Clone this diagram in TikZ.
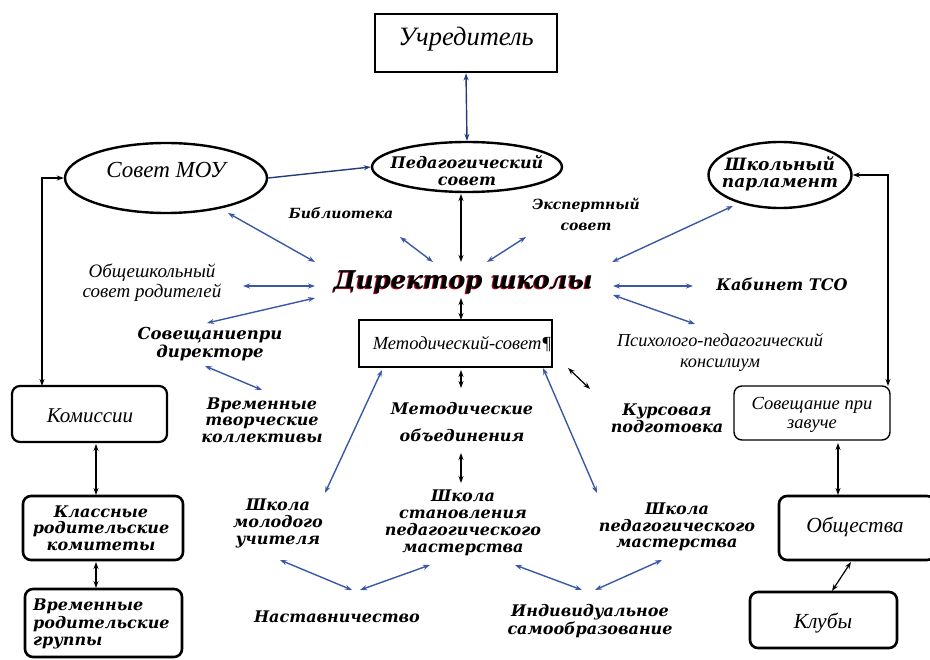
\documentclass[tikz,border=0pt]{standalone}
\usepackage{fontspec}
\setmainfont{Liberation Serif}
\newfontfamily\dvs{DejaVu Serif}
\usetikzlibrary{arrows.meta,shapes.geometric}
\definecolor{lnblue}{RGB}{58,88,165}
\definecolor{dkblue}{RGB}{35,60,120}
\definecolor{dred}{RGB}{170,10,30}
\newcommand\BI[2]{\dvs\fontsize{#1}{#2}\selectfont\bfseries\itshape}
\newcommand\RI[2]{\fontsize{#1}{#2}\selectfont\itshape}
\begin{document}
\begin{tikzpicture}[x=1pt,y=-1pt,
  tip/.tip={Stealth[length=7pt,width=5pt]},
  ba/.style={tip-tip, draw=lnblue, line width=1.4pt},
  bd/.style={tip-tip, draw=dkblue, line width=1.4pt},
  bs/.style={-tip, draw=dkblue, line width=1.4pt},
  bk/.style={tip-tip, draw=black, line width=1.2pt},
  lbl/.style={align=center, inner sep=0pt},
  thick box/.style={draw, line width=2.6pt, rounded corners=8pt, inner sep=0pt},
  thin box/.style={draw, line width=1.4pt, rounded corners=8pt, inner sep=0pt},
  oval/.style={ellipse, draw, line width=2.4pt, inner sep=0pt}]
\path[use as bounding box, fill=white] (0,0) rectangle (930,660);

% ---- boxes and ovals
\node[draw, line width=2.8pt, minimum width=182pt, minimum height=58pt, inner sep=0pt] (ucr) at (466,43) {};
\node[lbl, font=\RI{26.5}{28}] (ucrt) at (466,39) {Учредитель};
\node[oval, minimum width=190pt, minimum height=50pt] (ped) at (467,167) {};
\node[lbl, font=\BI{16}{17}] (pedt) at (467,171) {Педагогический\\совет};
\node[oval, minimum width=202pt, minimum height=70pt] (moy) at (166,178) {};
\node[lbl, font=\RI{23}{24}] (moyt) at (166,170) {Совет МОУ};
\node[oval, minimum width=143pt, minimum height=66pt] (parl) at (780,175) {};
\node[lbl, font=\BI{17}{17}] (parlt) at (780,174) {Школьный\\парламент};

\node[lbl, font=\BI{24.5}{28}, text=dred] at (462.3,283.6) {Директор школы};
\node[lbl, font=\BI{24.5}{28}] (dir) at (463.5,282) {Директор школы};

\node[draw, line width=1.3pt, minimum width=193pt, minimum height=47pt, inner sep=0pt] (met) at (455.5,343.5) {};
\node[lbl, font=\RI{18.5}{19}] (mett) at (462,344) {Методический-совет¶};

\node[thin box, line width=2.2pt, minimum width=155pt, minimum height=56pt] (kom) at (89.5,414) {};
\node[lbl, font=\RI{21}{21}] (komt) at (90,416) {Комиссии};
\node[thick box, minimum width=160pt, minimum height=64pt] (kls) at (103,528) {};
\node[lbl, font=\BI{16}{16.5}] (klst) at (101,528) {Классные\\родительские\\комитеты};
\node[thick box, minimum width=157pt, minimum height=68pt] (vrg) at (103.5,623) {};
\node[lbl, align=left, anchor=west, font=\BI{16}{17.5}] (vrgt) at (33,624) {Временные\\родительские\\группы};

\node[thin box, minimum width=156pt, minimum height=54pt] (zav) at (812,413) {};
\node[lbl, font=\RI{18.5}{19}] (zavt) at (812,415) {Совещание при\\завуче};
\node[thick box, minimum width=156pt, minimum height=64pt] (obs) at (857,528) {};
\node[lbl, font=\RI{21.5}{23}] (obst) at (855,527) {Общества};
\node[thick box, minimum width=147pt, minimum height=56pt] (klb) at (823.5,620) {};
\node[lbl, font=\RI{21.5}{23}] (klbt) at (823,623) {Клубы};

% ---- free labels
\node[lbl, font=\BI{14}{15}] (bib) at (341,213) {Библиотека};
\node[lbl, font=\BI{14}{21}] (eks) at (586,214) {Экспертный\\совет};
\node[lbl, font=\RI{19}{20}] (obr) at (152,283) {Общешкольный\\совет родителей};
\node[lbl, font=\BI{16}{17}] (tso) at (782,284) {Кабинет ТСО};
\node[lbl, font=\BI{16.5}{18}] (sdr) at (210,344) {Совещаниепри\\директоре};
\node[lbl, font=\RI{18.3}{21}] (psi) at (720,352) {Психолого-педагогический\\консилиум};
\node[lbl, font=\BI{16}{16.5}] (vtk) at (262,420) {Временные\\творческие\\коллективы};
\node[lbl, font=\BI{16}{27}] (mob) at (462,422) {Методические\\объединения};
\node[lbl, font=\BI{16}{17}] (kur) at (667,418) {Курсовая\\подготовка};
\node[lbl, font=\BI{16}{17}] (smu) at (278,523) {Школа\\молодого\\учителя};
\node[lbl, font=\BI{16}{16.8}] (ssm) at (463,523) {Школа\\становления\\педагогического\\мастерства};
\node[lbl, font=\BI{16}{16.5}] (spm) at (677,527) {Школа\\педагогического\\мастерства};
\node[lbl, font=\BI{16}{17}] (nas) at (337,617) {Наставничество};
\node[lbl, font=\BI{16}{18}] (ind) at (590,621) {Индивидуальное\\самообразование};

% ---- connector end points
\coordinate (lc) at (42,386);
\coordinate (rc) at (888,386);
\foreach \n/\p in {a1/{228,213}, a2/{315,262}, b1/{400,237}, b2/{433,262},
  c1/{487,262}, c2/{526,237}, d1/{612,262}, d2/{733,206},
  e1/{243,286}, e2/{315,286}, f1/{613,286}, f2/{693,286},
  g1/{315,298}, g2/{207,323}, h1/{613,295}, h2/{695,324},
  i1/{205,366}, i2/{262,390}, j1/{382,370}, j2/{325,493},
  k1/{543,368}, k2/{597,493}, l1/{568,368}, l2/{590,389},
  m1/{280,560}, m2/{352,590}, n1/{430,565}, n2/{360,590},
  o1/{515,565}, o2/{582,590}, p1/{662,560}, p2/{595,590},
  q1/{461,194}, q2/{461,262}, r1/{461,298}, r2/{461,320},
  s1/{461,370}, s2/{461,388}, t1/{461,453}, t2/{461,483},
  u1/{96,444}, u2/{96,495}, v1/{96,562}, v2/{96,588},
  w1/{838,443}, w2/{838,495}, z1/{851,562}, z2/{832,591}}
  {\coordinate (\n) at (\p);}

% ---- connectors
\draw[bd] (ucr.south) -- (ped.north);
\draw[bs] (moy.east) -- (ped.west);
\draw[bk] (moy.west) -| (lc);
\draw[bk] (parl.east) -| (rc);
\foreach \s/\t in {a1/a2,b1/b2,c1/c2,d1/d2,e1/e2,f1/f2,g1/g2,h1/h2,i1/i2,j1/j2,k1/k2,m1/m2,n1/n2,o1/o2,p1/p2}
  \draw[ba] (\s) -- (\t);
\foreach \s/\t in {l1/l2,q1/q2,r1/r2,s1/s2,t1/t2,u1/u2,v1/v2,w1/w2,z1/z2}
  \draw[bk] (\s) -- (\t);
\end{tikzpicture}
\end{document}
